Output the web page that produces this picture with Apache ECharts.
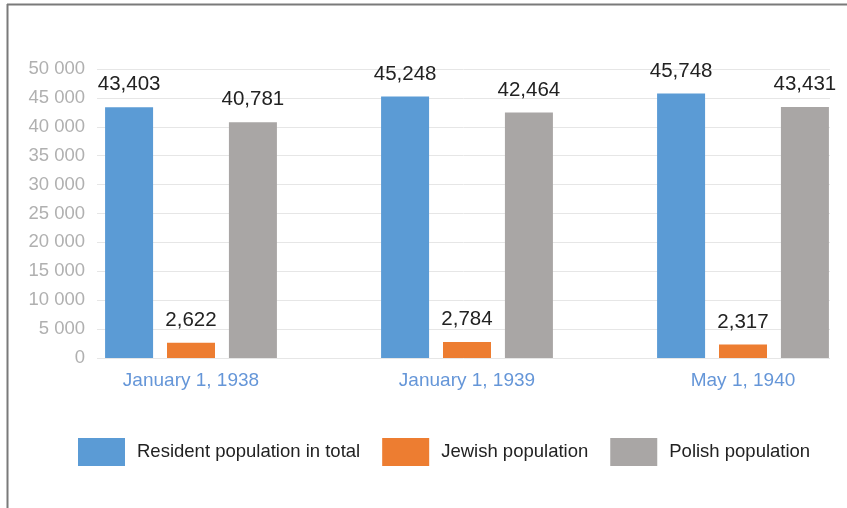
<!DOCTYPE html>
<html>
<head>
<meta charset="utf-8">
<script src="https://cdn.jsdelivr.net/npm/echarts@6/dist/echarts.min.js"></script>
<style>html,body{margin:0;padding:0;background:#fff}#c{width:847px;height:508px}</style>
</head>
<body>
<div id="c"></div>
<script>
const categories = ['January 1, 1938', 'January 1, 1939', 'May 1, 1940'];
const residentTotal = [43403, 45248, 45748];
const jewishPop = [2622, 2784, 2317];
const polishPop = [40781, 42464, 43431];
const seriesNames = ['Resident population in total', 'Jewish population', 'Polish population'];
const colors = ['#5B9BD5', '#ED7D31', '#A9A6A5'];
const yMax = 50000, yStep = 5000;

const FONT = '"Liberation Sans", Arial, sans-serif';
const chart = echarts.init(document.getElementById('c'));
const fmt = v => v.toLocaleString('en-US');
const lbl = {
  show: true, position: 'top', distance: 12, color: '#222', fontSize: 20.5, fontFamily: FONT,
  formatter: p => fmt(p.value)
};
const mk = (name, data, color) => ({
  name, type: 'bar', data, xAxisIndex: 1, yAxisIndex: 1, barWidth: 48, barGap: '29%',
  itemStyle: { color }, label: lbl
});
chart.setOption({
  animation: false,
  graphic: [
    { type: 'line', shape: { x1: 7, y1: 4.5, x2: 847, y2: 4.5 }, style: { stroke: '#7a7a7a', lineWidth: 2 } },
    { type: 'line', shape: { x1: 7.5, y1: 4, x2: 7.5, y2: 508 }, style: { stroke: '#7a7a7a', lineWidth: 2 } }
  ],
  grid: [
    { left: 97, right: 17, top: 69, bottom: 150 },
    { left: 191, right: 104, top: 69, bottom: 150 }
  ],
  xAxis: [
    { type: 'category', gridIndex: 0, data: categories, show: false },
    { type: 'category', gridIndex: 1, data: categories, boundaryGap: false,
      axisLine: { show: false }, axisTick: { show: false },
      axisLabel: { color: '#6596d8', fontSize: 19, fontFamily: FONT, margin: 13 } }
  ],
  yAxis: [
    { type: 'value', gridIndex: 0, min: 0, max: yMax, interval: yStep,
      axisLine: { show: false }, axisTick: { show: false },
      splitLine: { lineStyle: { color: '#e6e6e6', width: 1 } },
      axisLabel: { color: '#b0b0b0', fontSize: 18.5, fontFamily: FONT, margin: 12,
        formatter: v => v === 0 ? '0' : String(v).replace(/\B(?=(\d{3})+(?!\d))/g, ' ') } },
    { type: 'value', gridIndex: 1, min: 0, max: yMax, interval: yStep, show: false,
      splitLine: { show: false } }
  ],
  legend: {
    left: 78, top: 438, padding: 0, icon: 'rect', itemWidth: 47, itemHeight: 28, itemGap: 22,
    textStyle: { color: '#222', fontSize: 18.5, fontFamily: FONT, padding: [0, 0, 0, 7] },
    data: seriesNames
  },
  series: [
    mk(seriesNames[0], residentTotal, colors[0]),
    mk(seriesNames[1], jewishPop, colors[1]),
    mk(seriesNames[2], polishPop, colors[2])
  ]
});
</script>
</body>
</html>
